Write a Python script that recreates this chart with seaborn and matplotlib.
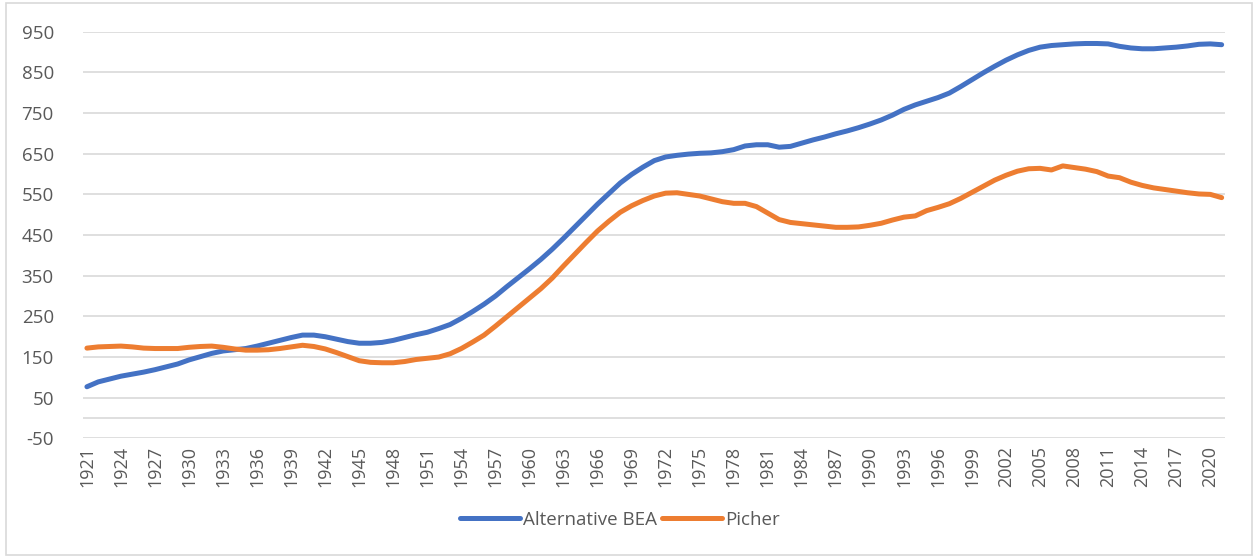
import numpy as np
import pandas as pd
import matplotlib.pyplot as plt
from matplotlib.patches import Rectangle
import seaborn as sns

# data
years = list(range(1921, 2022))

alt_bea = [77, 89, 96, 103, 108, 113, 119, 126, 133, 143,
           151, 159, 165, 168, 171, 177, 184, 191, 198, 204,
           204, 200, 194, 188, 184, 184, 186, 191, 198, 205,
           211, 220, 230, 245, 262, 280, 300, 323, 345, 367,
           390, 415, 442, 470, 498, 526, 552, 578, 599, 617,
           633, 642, 646, 649, 651, 652, 655, 660, 669, 672,
           672, 666, 668, 676, 684, 691, 699, 706, 714, 723,
           733, 745, 759, 770, 779, 788, 799, 815, 832, 849,
           865, 880, 893, 904, 912, 916, 918, 920, 921, 921,
           920, 914, 910, 908, 908, 910, 912, 915, 919, 920,
           918]

picher = [172, 175, 176, 177, 175, 172, 171, 171, 171, 174,
          176, 177, 174, 170, 167, 167, 168, 171, 175, 179,
          176, 170, 161, 151, 141, 137, 136, 136, 139, 144,
          147, 150, 158, 171, 187, 204, 226, 249, 272, 295,
          318, 344, 374, 403, 432, 460, 484, 506, 522, 535,
          546, 553, 554, 550, 546, 539, 532, 528, 528, 520,
          504, 488, 481, 478, 475, 472, 469, 469, 470, 474,
          479, 487, 494, 497, 510, 518, 527, 540, 555, 570,
          585, 597, 607, 613, 614, 610, 620, 616, 612, 606,
          595, 591, 580, 572, 566, 562, 558, 554, 551, 550,
          542]

series_names = ["Alternative BEA", "Picher"]
colors = ["#4472C4", "#ED7D31"]
y_ticks = list(range(-50, 1000, 100))
x_ticks = list(range(1921, 2022, 3))

df = pd.DataFrame({
    "year": years * 2,
    "value": alt_bea + picher,
    "series": [series_names[0]] * len(years) + [series_names[1]] * len(years),
})

sns.set_style("white")
plt.rcParams["font.family"] = ["Open Sans", "DejaVu Sans"]

fig = plt.figure(figsize=(12.53, 5.56), dpi=100)
ax = fig.add_axes([0.0662, 0.2115, 0.9115, 0.7315])

# chart frame like excel
fig.patches.append(Rectangle((6 / 1253, 0.002), 1 - 7 / 1253, 1 - 3 / 556 - 0.002,
                             transform=fig.transFigure, fill=False,
                             edgecolor="#d9d9d9", lw=1.2, zorder=0))

for v in y_ticks + [0]:
    ax.axhline(v, color="#d9d9d9", lw=1.2, zorder=0)

sns.lineplot(data=df, x="year", y="value", hue="series", palette=colors,
             hue_order=series_names, lw=3.6, ax=ax, legend=True)

ax.set_xlim(1920.65, 2021.3)
ax.set_ylim(-50, 950)
ax.set_yticks(y_ticks)
ax.set_yticklabels([str(v) for v in y_ticks], fontsize=13.5, color="#595959")
ax.set_xticks(x_ticks)
ax.set_xticklabels([str(v) for v in x_ticks], rotation=90, fontsize=13, color="#595959")
ax.tick_params(axis="x", direction="inout", length=9, width=1.2, color="#bfbfbf", pad=1)
ax.tick_params(axis="y", length=0, pad=21)
for s in ax.spines.values():
    s.set_visible(False)
ax.set_xlabel("")
ax.set_ylabel("")

leg = ax.legend(loc="center", bbox_to_anchor=(0.47, -0.2), ncol=2, frameon=False,
                fontsize=13.5, handlelength=3.2, columnspacing=0.3, handletextpad=0.15)
for t in leg.get_texts():
    t.set_color("#595959")
for h in leg.get_lines():
    h.set_linewidth(3.6)

fig.savefig("out.png", dpi=100)
